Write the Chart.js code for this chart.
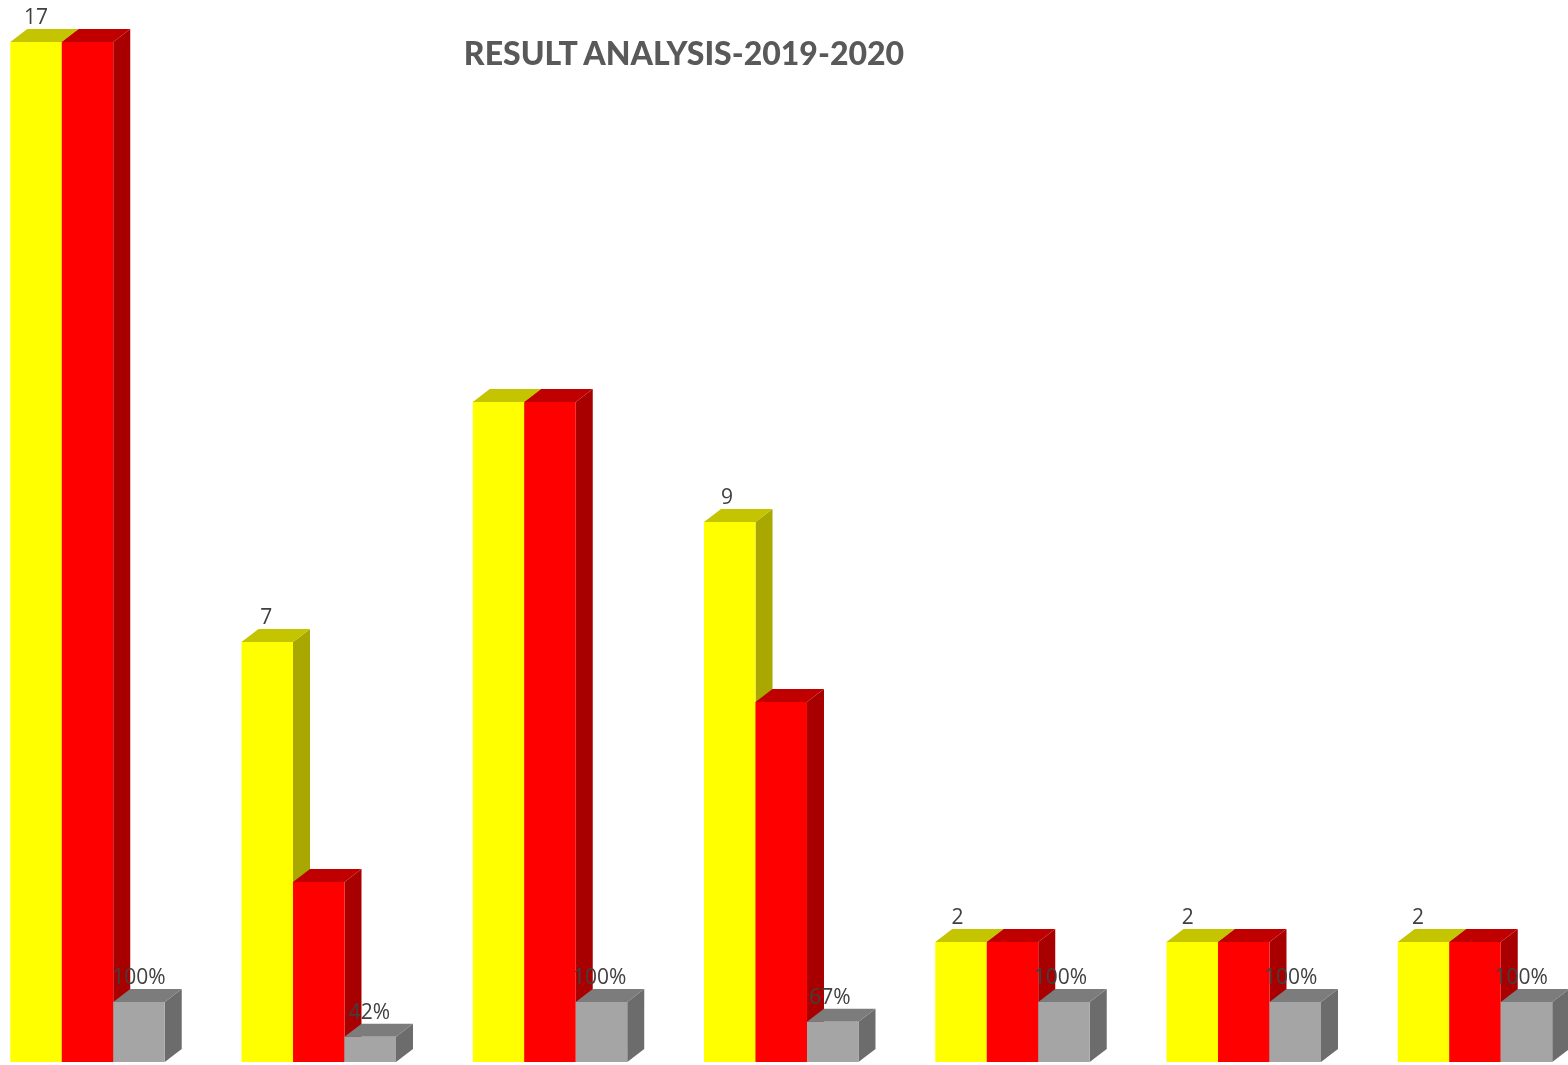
<!DOCTYPE html>
<html lang="en">
<head>
  <meta charset="UTF-8">
  <title>Result Analysis</title>
  <script src="https://cdn.jsdelivr.net/npm/chart.js"></script>
  <style>
    body { margin: 0; background: #fff; }
    #wrap { position: relative; width: 1568px; height: 1065px; overflow: hidden; }
    h1 {
      position: absolute; left: 384px; width: 600px; top: 32px; margin: 0;
      text-align: center; font: 900 32px/42px Lato, sans-serif; color: #595959;
    }
  </style>
</head>
<body>
  <div id="wrap">
    <canvas id="resultChart" width="1568" height="1065"></canvas>
    <h1>RESULT ANALYSIS-2019-2020</h1>
  </div>

  <script>
    const categories = ['A', 'B', 'C', 'D', 'E', 'F', 'G'];
    const appeared = [17, 7, 11, 9, 2, 2, 2];
    const passed = [17, 3, 11, 6, 2, 2, 2];
    const passRatio = [1, 0.42, 1, 0.67, 1, 1, 1];
    const appearedLabels = ['17', '7', '', '9', '2', '2', '2'];
    const ratioLabels = ['100%', '42%', '100%', '67%', '100%', '100%', '100%'];

    const depthX = 17, depthY = 13;
    const faces = [
      { side: '#a8a800', top: '#c4c400', labels: appearedLabels },
      { side: '#a80000', top: '#c00000', labels: null },
      { side: '#6c6c6c', top: '#7c7c7c', labels: ratioLabels }
    ];

    // the bars are flat in chart.js, so add the side and top faces by hand
    const bars3d = {
      id: 'bars3d',
      beforeDatasetDraw() { return false; },
      afterDatasetsDraw(chart) {
        const c = chart.ctx;
        faces.forEach((face, i) => {
          chart.getDatasetMeta(i).data.forEach((bar) => {
            const left = bar.x - bar.width / 2, right = bar.x + bar.width / 2;
            c.fillStyle = face.side;
            c.beginPath();
            c.moveTo(right, bar.y);
            c.lineTo(right + depthX, bar.y - depthY);
            c.lineTo(right + depthX, bar.base - depthY);
            c.lineTo(right, bar.base);
            c.fill();
            c.fillStyle = face.top;
            c.beginPath();
            c.moveTo(left, bar.y);
            c.lineTo(left + depthX, bar.y - depthY);
            c.lineTo(right + depthX, bar.y - depthY);
            c.lineTo(right, bar.y);
            c.fill();
            bar.draw(c);
          });
        });
        c.font = '21px "Open Sans", sans-serif';
        c.fillStyle = '#404040';
        c.textAlign = 'center';
        c.textBaseline = 'middle';
        faces.forEach((face, i) => {
          if (!face.labels) return;
          chart.getDatasetMeta(i).data.forEach((bar, j) => {
            // labels in the original drift left a little across the groups
            if (face.labels[j]) c.fillText(face.labels[j], bar.x - j * 0.9, bar.y - 24);
          });
        });
      }
    };

    new Chart(document.getElementById('resultChart'), {
      type: 'bar',
      data: {
        labels: categories,
        datasets: [
          { data: appeared, backgroundColor: '#ffff00' },
          { data: passed, backgroundColor: '#ff0000' },
          { data: passRatio, backgroundColor: '#a5a5a5' }
        ]
      },
      options: {
        responsive: false,
        animation: false,
        categoryPercentage: 0.668,
        barPercentage: 1,
        layout: { padding: { left: 87.5, right: 93, top: 42, bottom: 3 } },
        plugins: { legend: { display: false }, tooltip: { enabled: false } },
        scales: {
          x: { display: false, offset: false },
          y: { display: false, min: 0, max: 17 }
        }
      },
      plugins: [bars3d]
    });
  </script>
</body>
</html>
